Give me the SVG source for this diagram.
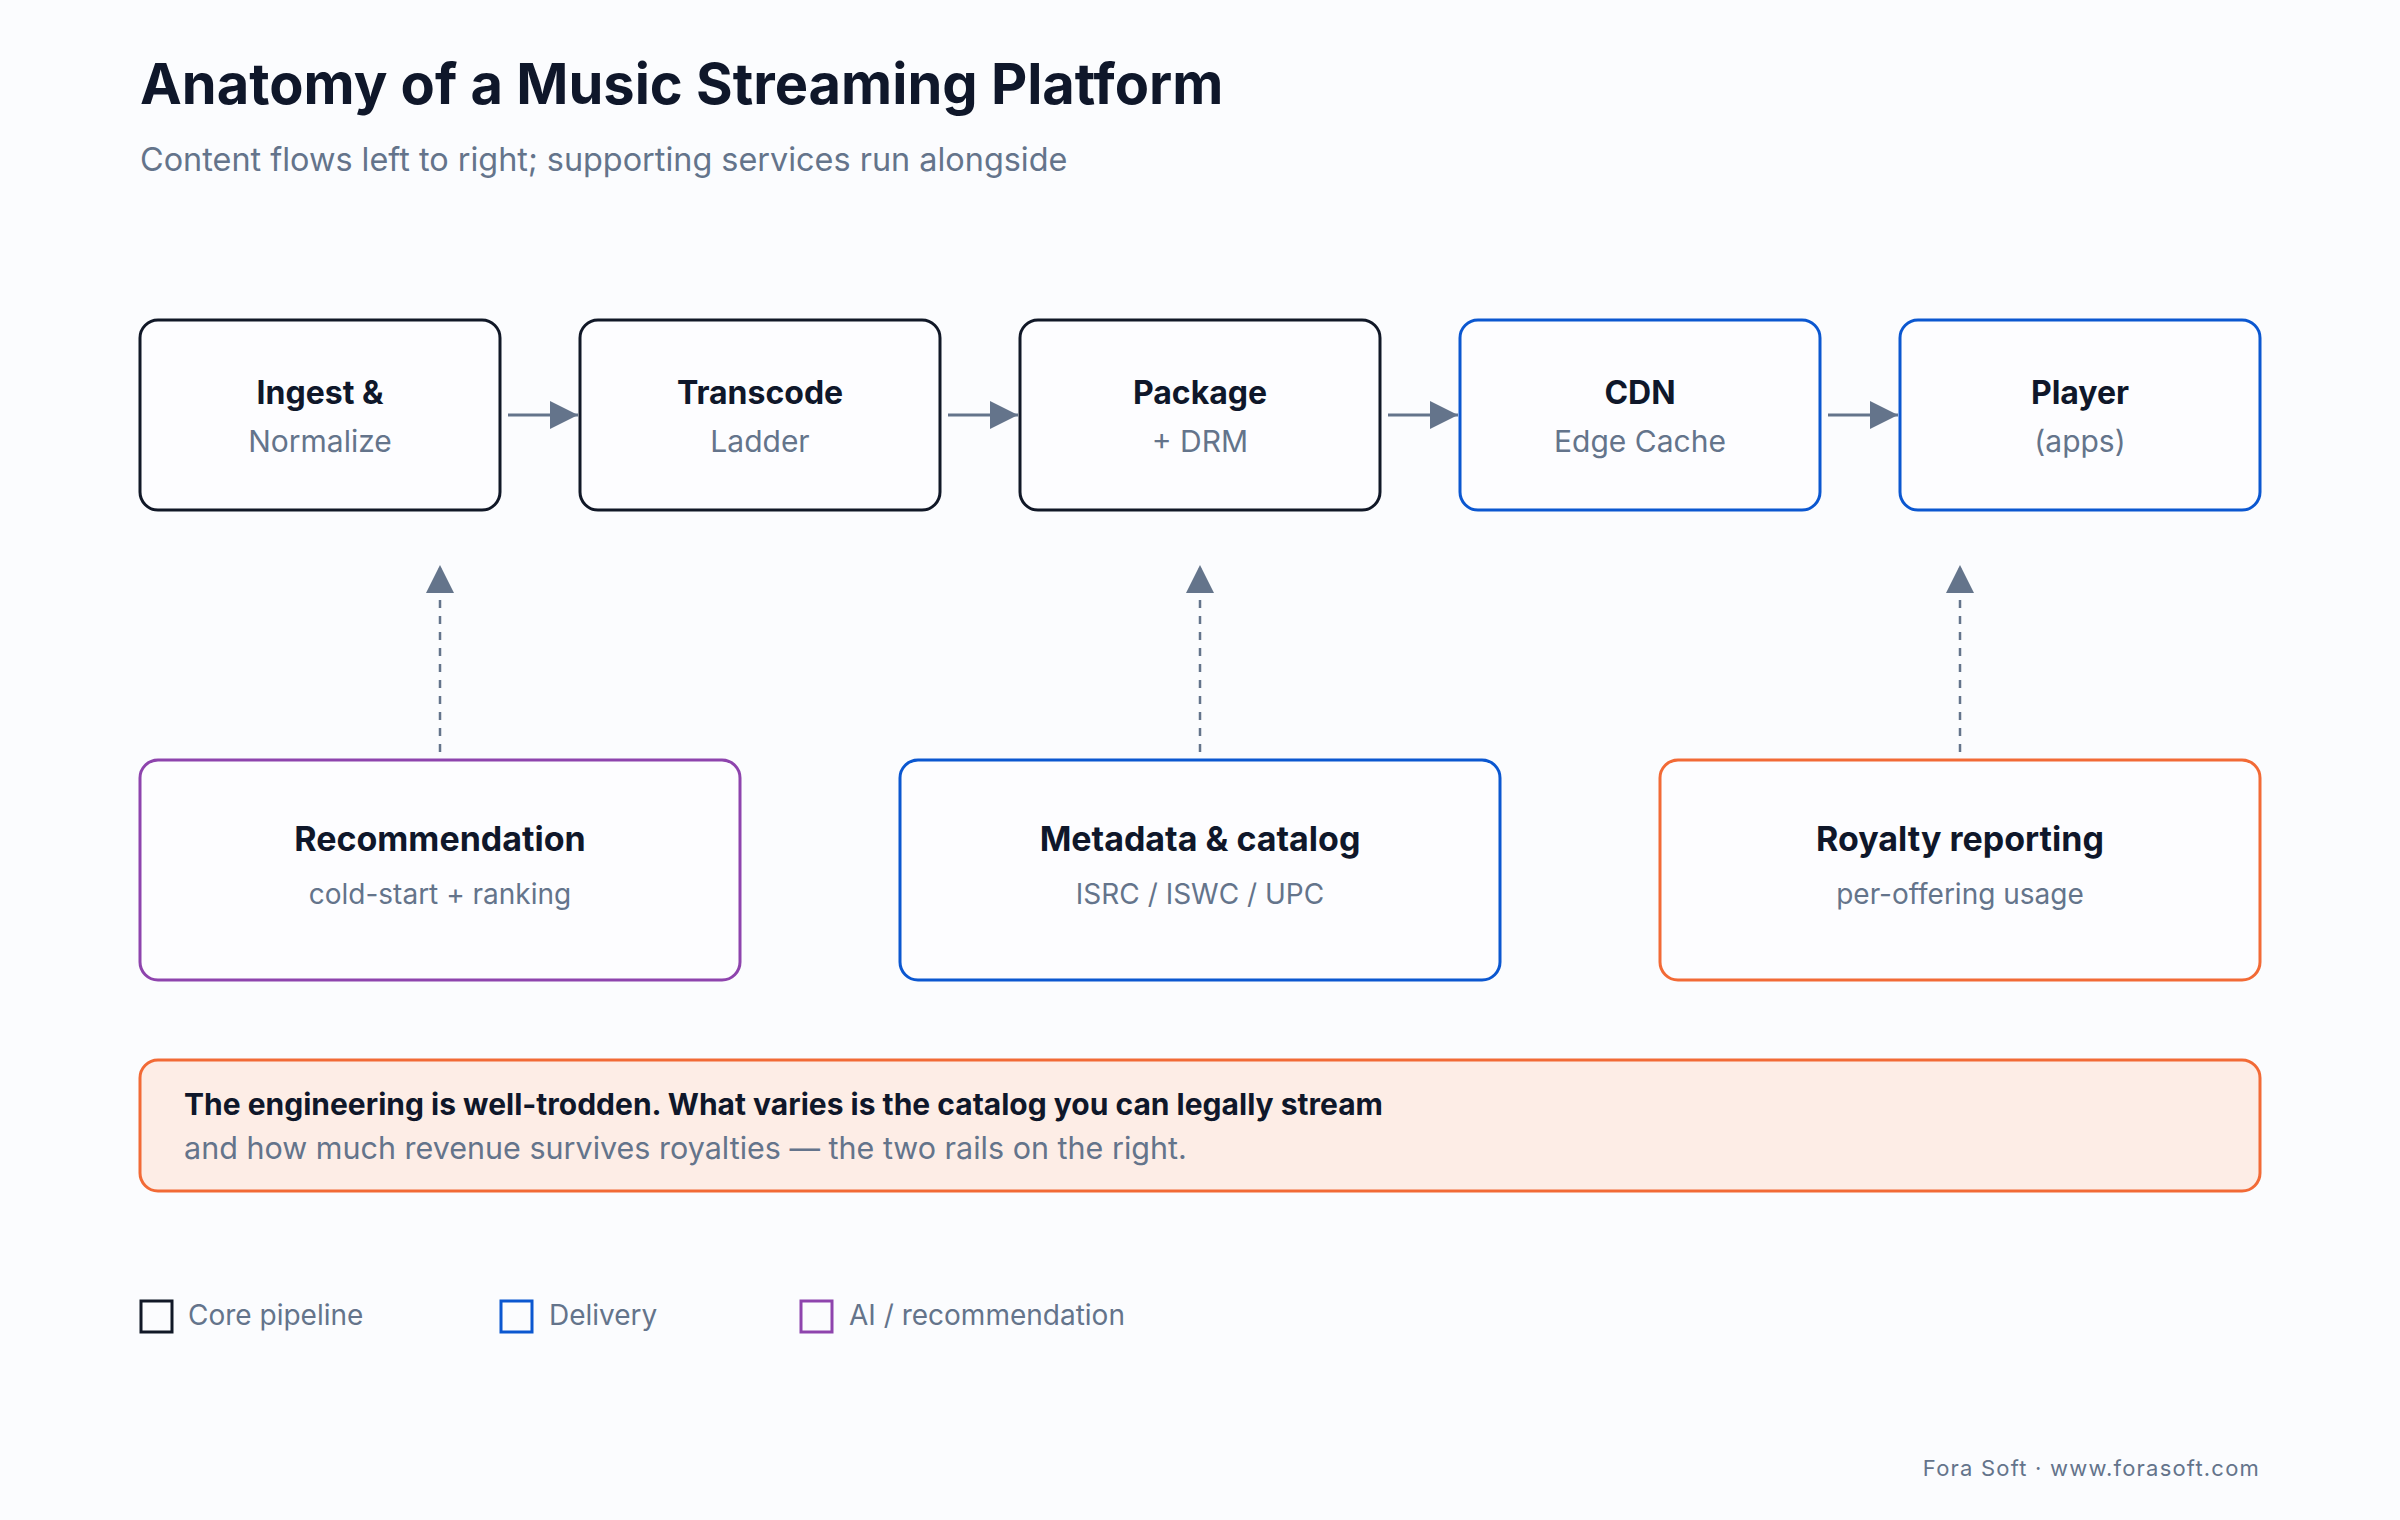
<svg xmlns="http://www.w3.org/2000/svg" width="2400" height="1520" viewBox="0 0 2400 1520">
<defs>
<style>
.bg{fill:#fbfcfe}
.h1{font-family:Inter,"Liberation Sans",sans-serif;font-weight:700;font-size:56px;fill:#0f172a}
.sub{font-family:Inter,"Liberation Sans",sans-serif;font-size:32.4px;fill:#64748b}
.box{fill:#fdfdff;stroke-width:3}
.core{stroke:#111827}
.del{stroke:#0b57d0}
.ai{stroke:#8e44ad}
.roy{stroke:#f26a36}
.t{font-family:Inter,"Liberation Sans",sans-serif;font-weight:700;font-size:32px;fill:#0f172a;text-anchor:middle}
.s{font-family:Inter,"Liberation Sans",sans-serif;font-size:30px;fill:#64748b;text-anchor:middle}
.t2{font-family:Inter,"Liberation Sans",sans-serif;font-weight:700;font-size:34px;fill:#0f172a;text-anchor:middle}
.s2{font-family:Inter,"Liberation Sans",sans-serif;font-size:28px;fill:#64748b;text-anchor:middle}
.flow{stroke:#64748b;stroke-width:3;fill:none}
.dash{stroke:#64748b;stroke-width:2.5;fill:none;stroke-dasharray:8 8}
.cb{font-family:Inter,"Liberation Sans",sans-serif;font-weight:700;font-size:30px;fill:#0f172a}
.cr{font-family:Inter,"Liberation Sans",sans-serif;font-size:30.5px;fill:#64748b}
.lg{font-family:Inter,"Liberation Sans",sans-serif;font-size:28px;fill:#64748b}
.ft{font-family:Inter,"Liberation Sans",sans-serif;font-size:22px;fill:#64748b;letter-spacing:1.2px;text-anchor:end}
</style>
<marker id="ah" viewBox="0 0 10 10" refX="10" refY="5" markerWidth="28" markerHeight="28" markerUnits="userSpaceOnUse" orient="auto">
<path d="M0,0 L10,5 L0,10 Z" fill="#64748b"/>
</marker>
</defs>
<rect class="bg" width="2400" height="1520"/>
<text class="h1" x="140" y="104">Anatomy of a Music Streaming Platform</text>
<text class="sub" x="140" y="171">Content flows left to right; supporting services run alongside</text>

<g id="connectors">
<line class="flow" x1="508" y1="415" x2="578" y2="415" marker-end="url(#ah)"/>
<line class="flow" x1="948" y1="415" x2="1018" y2="415" marker-end="url(#ah)"/>
<line class="flow" x1="1388" y1="415" x2="1458" y2="415" marker-end="url(#ah)"/>
<line class="flow" x1="1828" y1="415" x2="1898" y2="415" marker-end="url(#ah)"/>
<line class="dash" x1="440" y1="752" x2="440" y2="565" marker-end="url(#ah)"/>
<line class="dash" x1="1200" y1="752" x2="1200" y2="565" marker-end="url(#ah)"/>
<line class="dash" x1="1960" y1="752" x2="1960" y2="565" marker-end="url(#ah)"/>
</g>

<g id="ingest">
<rect class="box core" x="140" y="320" width="360" height="190" rx="18"/>
<text class="t" x="320" y="404">Ingest &amp;</text>
<text class="s" x="320" y="452">Normalize</text>
</g>
<g id="transcode">
<rect class="box core" x="580" y="320" width="360" height="190" rx="18"/>
<text class="t" x="760" y="404">Transcode</text>
<text class="s" x="760" y="452">Ladder</text>
</g>
<g id="package">
<rect class="box core" x="1020" y="320" width="360" height="190" rx="18"/>
<text class="t" x="1200" y="404">Package</text>
<text class="s" x="1200" y="452">+ DRM</text>
</g>
<g id="cdn">
<rect class="box del" x="1460" y="320" width="360" height="190" rx="18"/>
<text class="t" x="1640" y="404">CDN</text>
<text class="s" x="1640" y="452">Edge Cache</text>
</g>
<g id="player">
<rect class="box del" x="1900" y="320" width="360" height="190" rx="18"/>
<text class="t" x="2080" y="404">Player</text>
<text class="s" x="2080" y="452">(apps)</text>
</g>

<g id="recommendation">
<rect class="box ai" x="140" y="760" width="600" height="220" rx="18"/>
<text class="t2" x="440" y="851">Recommendation</text>
<text class="s2" x="440" y="904">cold-start + ranking</text>
</g>
<g id="metadata">
<rect class="box del" x="900" y="760" width="600" height="220" rx="18"/>
<text class="t2" x="1200" y="851">Metadata &amp; catalog</text>
<text class="s2" x="1200" y="904">ISRC / ISWC / UPC</text>
</g>
<g id="royalty">
<rect class="box roy" x="1660" y="760" width="600" height="220" rx="18"/>
<text class="t2" x="1960" y="851">Royalty reporting</text>
<text class="s2" x="1960" y="904">per-offering usage</text>
</g>

<g id="callout">
<rect x="140" y="1060" width="2120" height="131" rx="18" fill="#fdede6" stroke="#f26a36" stroke-width="3"/>
<text class="cb" x="184" y="1115">The engineering is well-trodden. What varies is the catalog you can legally stream</text>
<text class="cr" x="184" y="1159">and how much revenue survives royalties — the two rails on the right.</text>
</g>

<g id="legend">
<rect x="141" y="1301" width="31" height="31" fill="none" stroke="#111827" stroke-width="3"/>
<text class="lg" x="188" y="1325">Core pipeline</text>
<rect x="501" y="1301" width="31" height="31" fill="none" stroke="#0b57d0" stroke-width="3"/>
<text class="lg" x="549" y="1325">Delivery</text>
<rect x="801" y="1301" width="31" height="31" fill="none" stroke="#8e44ad" stroke-width="3"/>
<text class="lg" x="849" y="1325">AI / recommendation</text>
</g>

<text class="ft" x="2260" y="1476">Fora Soft · www.forasoft.com</text>
</svg>
